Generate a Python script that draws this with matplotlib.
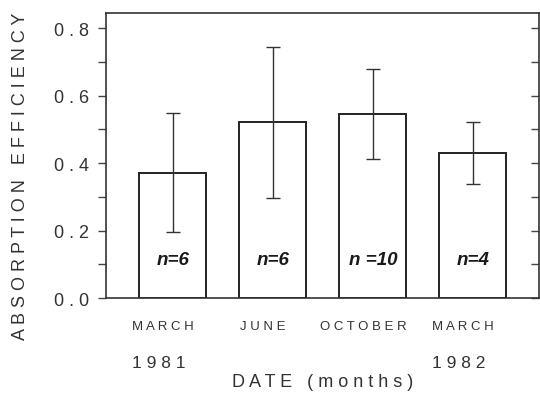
import numpy as np
import matplotlib.pyplot as plt
from matplotlib.ticker import MultipleLocator

plt.rcParams['font.family'] = ['Liberation Sans', 'DejaVu Sans']

months = ['MARCH', 'JUNE', 'OCTOBER', 'MARCH']
years = ['1981', '', '', '1982']
efficiency = [0.372, 0.521, 0.545, 0.430]
sd = [0.176, 0.224, 0.134, 0.092]
n_labels = ['n=6', 'n=6', 'n =10', 'n=4']
y_ticks = [0.0, 0.2, 0.4, 0.6, 0.8]


def spaced(s):
    # wide letter spacing like the old typeset figure
    return ' '.join(s)


fig = plt.figure(figsize=(5.4, 4.02), dpi=100)
ax = fig.add_axes([0.196, 0.256, 0.802, 0.709])

x = np.arange(len(efficiency))
ax.bar(x, efficiency, width=0.67, color='white', edgecolor='#222222', linewidth=1.4)
ax.errorbar(x, efficiency, yerr=sd, fmt='none', ecolor='#333333',
            elinewidth=1.0, capsize=5, capthick=1.0)

for xi, lab in zip(x, n_labels):
    ax.text(xi, 0.115, lab, ha='center', va='center', fontsize=13.5,
            fontweight='bold', fontstyle='italic', color='#1a1a1a')

ax.set_xlim(-0.67, 3.66)
ax.set_ylim(0, 0.845)

ax.set_yticks(y_ticks)
ax.set_yticklabels([spaced(f'{t:.1f}') for t in y_ticks], fontsize=13, color='#333333')
ax.yaxis.set_minor_locator(MultipleLocator(0.1))
ax.tick_params(axis='y', which='both', direction='out', length=6, width=1.0,
               color='#444444', pad=6)

# short inward ticks along the right edge
ax.tick_params(axis='y', which='both', right=True)
for t in ax.yaxis.get_ticklines(minor=False)[1::2] + ax.yaxis.get_ticklines(minor=True)[1::2]:
    t.set_marker(0)

ax.set_xticks(x - 0.1)
ax.set_xticklabels([spaced(m) for m in months], fontsize=9.5, color='#333333')
ax.tick_params(axis='x', length=0, pad=16)

for xi, yr in zip(x, years):
    if yr:
        ax.text(xi - 0.14, -0.19, spaced(yr), ha='center', va='center', fontsize=12.5,
                color='#333333', clip_on=False)

ax.set_xlabel(spaced('DATE') + '   ' + spaced('(months)'), fontsize=13,
              color='#333333')
ax.xaxis.set_label_coords(0.50, -0.262)
ax.set_ylabel(spaced('ABSORPTION') + '   ' + spaced('EFFICIENCY'), fontsize=13,
              color='#333333')
ax.yaxis.set_label_coords(-0.178, 0.43)

for s in ax.spines.values():
    s.set_linewidth(1.2)
    s.set_color('#333333')

fig.savefig('out.png', dpi=100)
